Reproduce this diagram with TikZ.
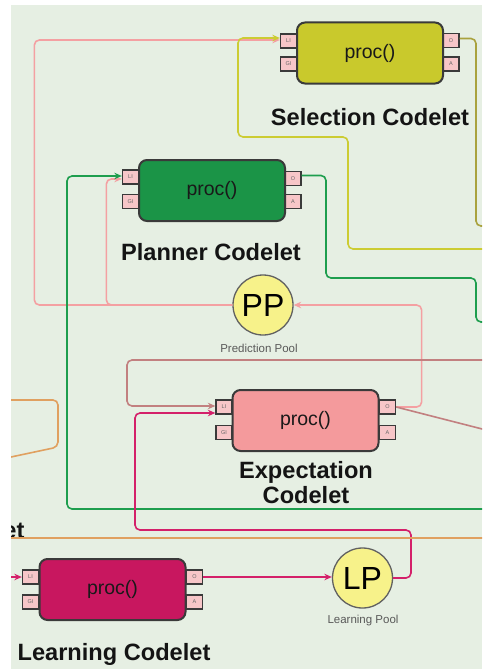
\documentclass[tikz,border=0pt]{standalone}
\usepackage{fontspec}
\setmainfont{Liberation Sans}
\usetikzlibrary{arrows.meta,calc}

\definecolor{bgc}{HTML}{E6EFE3}
\definecolor{selfill}{HTML}{C9C92C}
\definecolor{planfill}{HTML}{1B9447}
\definecolor{expfill}{HTML}{F49A9C}
\definecolor{learnfill}{HTML}{C8175F}
\definecolor{portfill}{HTML}{F7C6C8}
\definecolor{edgec}{HTML}{3A3A3A}
\definecolor{poolfill}{HTML}{F7F28A}
\definecolor{predc}{HTML}{F4A0A2}
\definecolor{yelc}{HTML}{CCCC33}
\definecolor{olivec}{HTML}{A9A23E}
\definecolor{greenc}{HTML}{1E9E4E}
\definecolor{brownc}{HTML}{C28080}
\definecolor{magc}{HTML}{D4206A}
\definecolor{orangec}{HTML}{E0A060}
\definecolor{textc}{HTML}{141414}

\begin{document}
\begin{tikzpicture}[x=1pt,y=-1pt,
  codelet/.style={draw=edgec, line width=2pt, rounded corners=8pt,
    minimum width=146pt, minimum height=61pt, inner sep=0pt,
    font=\fontsize{19.5}{20}\selectfont, text=black!90},
  port/.style={draw=edgec, fill=portfill, line width=1.3pt,
    minimum width=16pt, minimum height=14pt, inner sep=0pt,
    font=\fontsize{5.5}{5.5}\selectfont, text=black!60},
  title/.style={anchor=base, font=\bfseries\fontsize{23.6}{25}\selectfont, text=textc},
  pool/.style={circle, draw=edgec!80, fill=poolfill, line width=1.3pt,
    minimum size=60pt, inner sep=0pt, font=\fontsize{32}{32}\selectfont, text=black},
  poollabel/.style={font=\fontsize{11.5}{12}\selectfont, text=black!65},
  wire/.style={line width=1.6pt, rounded corners=5pt},
  tip/.style={-{Stealth[length=7.5pt,width=6.5pt]}}
]
\useasboundingbox (0,0) rectangle (482,669);
\clip (0,0) rectangle (482,669);
\fill[bgc] (11,5) rectangle (482,669);

% free ends of connectors that leave the drawing area
\coordinate (selOut)   at (490,226);
\coordinate (selIn)    at (490,249);
\coordinate (greenOut) at (490,322);
\coordinate (greenIn)  at (490,509);
\coordinate (brownIn)  at (490,360);
\coordinate (brownOut) at (490,431);
\coordinate (magIn)    at (11,577);
\coordinate (orgA)     at (11,400);
\coordinate (orgB)     at (11,457);
\coordinate (orgC)     at (11,538);
\coordinate (orgD)     at (490,538);

% ports
\node[port] (selLI) at (288.5,41) {LI};
\node[port] (selGI) at (288.5,64) {GI};
\node[port] (selO)  at (451,40.5) {O};
\node[port] (selA)  at (451,64) {A};

\node[port] (plLI) at (130.5,177) {LI};
\node[port] (plGI) at (130.5,201.5) {GI};
\node[port] (plO)  at (293,178.5) {O};
\node[port] (plA)  at (293,201.5) {A};

\node[port] (exLI) at (224,407) {LI};
\node[port] (exGI) at (224,432.5) {GI};
\node[port] (exO)  at (387.5,407) {O};
\node[port] (exA)  at (387.5,432.5) {A};

\node[port] (lnLI) at (30.5,577) {LI};
\node[port] (lnGI) at (30.5,602) {GI};
\node[port] (lnO)  at (194.5,577) {O};
\node[port] (lnA)  at (194.5,602) {A};

% codelet bodies
\node[codelet, fill=selfill]   (sel) at (370,53)    {proc()};
\node[codelet, fill=planfill]  (pl)  at (212,190.5) {proc()};
\node[codelet, fill=expfill]   (ex)  at (305.5,420.5) {proc()};
\node[codelet, fill=learnfill] (ln)  at (112.5,589.5) {proc()};

% codelet titles
\node[title] (selT) at (370,125) {Selection Codelet};
\node[title] (plT)  at (211,260) {Planner Codelet};
\node[title] (exT1) at (306,478) {Expectation};
\node[title] (exT2) at (306,503) {Codelet};
\node[title] (lnT)  at (114,660) {Learning Codelet};
\node[title, anchor=base east] (cutT) at (28,538) {et};

% pools
\node[pool] (pp) at (263,305) {PP};
\node[poollabel] (ppT) at (259,348) {Prediction Pool};
\node[pool] (lp) at (362.5,578) {LP};
\node[poollabel] (lpT) at (363,621) {Learning Pool};

% prediction pool outputs
\draw[wire, predc, tip] (pp.west) -- ++(-198,0) |- ([yshift=1pt]selLI.west);
\draw[wire, predc, tip] (pp.west) -- ++(-126,0) |- ([yshift=-2pt]plLI.west);
\draw[wire, predc, tip] (exO.east) -- ++(25.5,0) |- (pp.east);

% selection codelet
\draw[wire, olivec] ([yshift=2pt]selO.east) -| ($(selOut)+(-14,0)$) -- (selOut);
\draw[wire, yelc, tip] (selIn) -- (348,249) -- (348,137) -- (238,137)
  |- ([yshift=3pt]selLI.west);

% planner codelet
\draw[wire, greenc] ([yshift=3pt]plO.east) -- (326,175.5) -- (326,278) -- (476,278)
  -- (476,322) -- (greenOut);
\draw[wire, greenc, tip] (greenIn) -- (67,509) |- ([yshift=1pt]plLI.west);

% expectation codelet
\draw[wire, brownc, tip] (brownIn) -- (127,360) |- ([yshift=1pt]exLI.west);
\draw[line width=1.6pt, brownc] (exO.east) -- (brownOut);

% learning
\draw[wire, magc, tip] (lp.east) -- (411,578) -- (411,530) -- (135,530)
  |- ([yshift=-6pt]exLI.west);
\draw[line width=1.6pt, magc, tip] (lnO.east) -- (lnO.east -| lp.west);
\draw[line width=1.6pt, magc, tip] (magIn) -- (lnLI.west);

% orange lines
\draw[wire, orangec] (orgA) -- (58,400) -- (58,447) -- (orgB);
\draw[line width=1.6pt, orangec] (orgC) -- (orgD);

% page margins
\fill[white] (0,0) rectangle (11,669);
\fill[white] (0,0) rectangle (482,5);
\end{tikzpicture}
\end{document}
